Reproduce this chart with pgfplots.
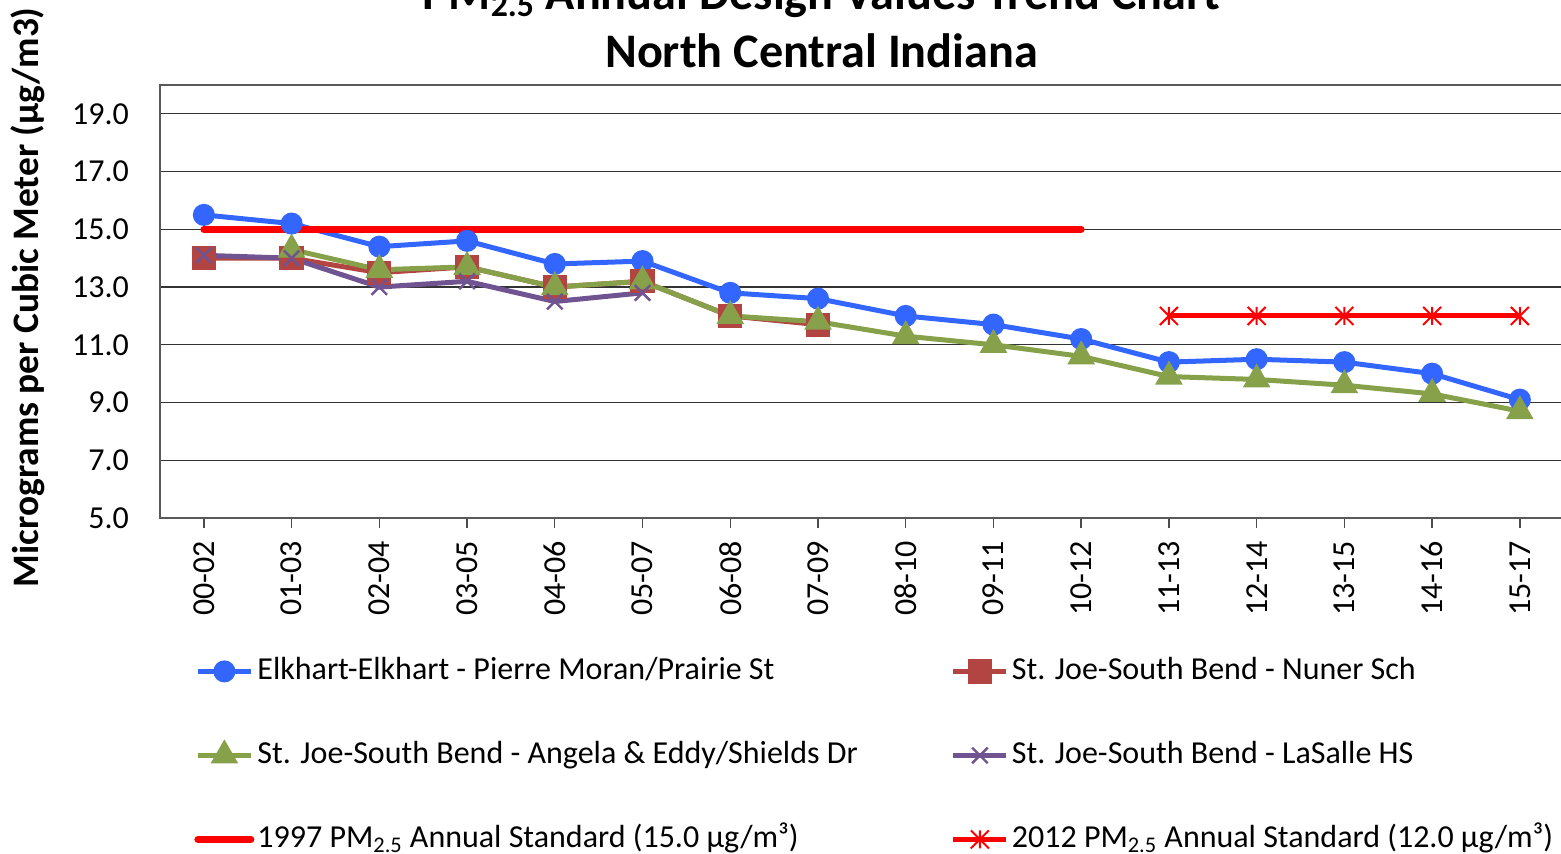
\documentclass[border=0pt]{standalone}
\usepackage{fontspec}
\setmainfont{Carlito}
\usepackage{pgfplots}
\pgfplotsset{compat=1.18}

\definecolor{cblue}{RGB}{51,102,255}
\definecolor{cred}{RGB}{178,68,66}
\definecolor{cgreen}{RGB}{134,161,74}
\definecolor{cpurple}{RGB}{112,84,146}
\definecolor{cstd}{RGB}{255,0,0}

\pgfdeclareplotmark{xstar}{%
  \pgfpathmoveto{\pgfqpoint{0pt}{\pgfplotmarksize}}%
  \pgfpathlineto{\pgfqpoint{0pt}{-\pgfplotmarksize}}%
  \pgfpathmoveto{\pgfqpoint{-\pgfplotmarksize}{\pgfplotmarksize}}%
  \pgfpathlineto{\pgfqpoint{\pgfplotmarksize}{-\pgfplotmarksize}}%
  \pgfpathmoveto{\pgfqpoint{-\pgfplotmarksize}{-\pgfplotmarksize}}%
  \pgfpathlineto{\pgfqpoint{\pgfplotmarksize}{\pgfplotmarksize}}%
  \pgfusepathqstroke}

\begin{document}
\begin{tikzpicture}
\begin{axis}[
  at={(0pt,0pt)}, anchor=south west,
  scale only axis,
  width=701.85pt, height=216.5pt,
  xmin=-0.5, xmax=15.5, ymin=5, ymax=20,
  xtick={0,...,15},
  xticklabels={00-02,01-03,02-04,03-05,04-06,05-07,06-08,07-09,08-10,09-11,10-12,11-13,12-14,13-15,14-16,15-17},
  ytick={5,7,...,19},
  yticklabel style={/pgf/number format/fixed, /pgf/number format/fixed zerofill, /pgf/number format/precision=1, xshift=-7pt},
  /pgf/number format/assume math mode=true,
  ticklabel style={font=\fontsize{16}{19}\selectfont},
  x tick label style={rotate=90, anchor=east, xshift=-3pt},
  xtick pos=bottom,
  tick align=outside,
  major tick length=5pt,
  xtick style={black!70, line width=0.7pt},
  ytick style={draw=none},
  ymajorgrids,
  grid style={black!80, line width=0.6pt},
  axis line style={black!65, line width=0.9pt},
  ylabel={Micrograms per Cubic Meter (µg/m3)},
  ylabel style={at={(axis description cs:-0.094,0.51)}, anchor=center, font=\bfseries\fontsize{18.7}{22}\selectfont},
  title={PM\textsubscript{2.5} Annual Design Values Trend Chart\\North Central Indiana},
  title style={at={(axis description cs:0.4713,1)}, anchor=south, yshift=2.5pt, inner sep=0pt, align=center, font=\bfseries\fontsize{24.1}{29}\selectfont},
  legend columns=2,
  legend cell align=left,
  legend style={at={(0.02422,-0.3164)}, anchor=north west, draw=none, fill=none, inner sep=0pt,
    font=\fontsize{16}{19}\selectfont, row sep=26pt,
    nodes={text height=12pt, text depth=4pt, inner ysep=0pt, inner xsep=1.5pt},
    /tikz/every even column/.append style={column sep=45pt}},
  legend image code/.code={%
    \draw[#1,mark repeat=2,mark phase=2] plot coordinates {(0pt,0pt) (13.25pt,0pt) (26.5pt,0pt)};},
]
\addplot[cblue, line width=2.5pt, mark=*, mark size=4.25pt, mark options={solid}]
  coordinates {(0,15.5)(1,15.2)(2,14.4)(3,14.6)(4,13.8)(5,13.9)(6,12.8)(7,12.6)(8,12.0)(9,11.7)(10,11.2)(11,10.4)(12,10.5)(13,10.4)(14,10.0)(15,9.1)};
\addlegendentry{Elkhart-Elkhart - Pierre Moran/Prairie St}
\addplot[cred, line width=2.5pt, mark=square*, mark size=4.8pt, mark options={solid}]
  coordinates {(0,14.0)(1,14.0)(2,13.5)(3,13.7)(4,13.0)(5,13.2)(6,12.0)(7,11.7)};
\addlegendentry{St. Joe-South Bend - Nuner Sch}
\addplot[cgreen, line width=2.5pt, mark=triangle*, mark size=5.5pt, mark options={solid}]
  coordinates {(1,14.3)(2,13.6)(3,13.7)(4,13.0)(5,13.2)(6,12.0)(7,11.8)(8,11.3)(9,11.0)(10,10.6)(11,9.9)(12,9.8)(13,9.6)(14,9.3)(15,8.7)};
\addlegendentry{St. Joe-South Bend - Angela \& Eddy/Shields Dr}
\addplot[cpurple, line width=2.5pt, mark=x, mark size=5.5pt, mark options={solid, line width=1.2pt}]
  coordinates {(0,14.1)(1,14.0)(2,13.0)(3,13.2)(4,12.5)(5,12.8)};
\addlegendentry{St. Joe-South Bend - LaSalle HS}
\addplot[cstd, line width=3.5pt, no marks, line cap=round]
  coordinates {(0,15)(1,15)(2,15)(3,15)(4,15)(5,15)(6,15)(7,15)(8,15)(9,15)(10,15)};
\addlegendentry{1997 PM\textsubscript{2.5} Annual Standard (15.0 µg/m³)}
\addplot[cstd, line width=2.5pt, mark=xstar, mark size=4.5pt, mark options={solid, line width=1pt}]
  coordinates {(11,12)(12,12)(13,12)(14,12)(15,12)};
\addlegendentry{2012 PM\textsubscript{2.5} Annual Standard (12.0 µg/m³)}
\end{axis}
\pgfresetboundingbox
\path[use as bounding box] (-80pt,-167.5pt) rectangle (700.5pt,259pt);
\end{tikzpicture}
\end{document}
